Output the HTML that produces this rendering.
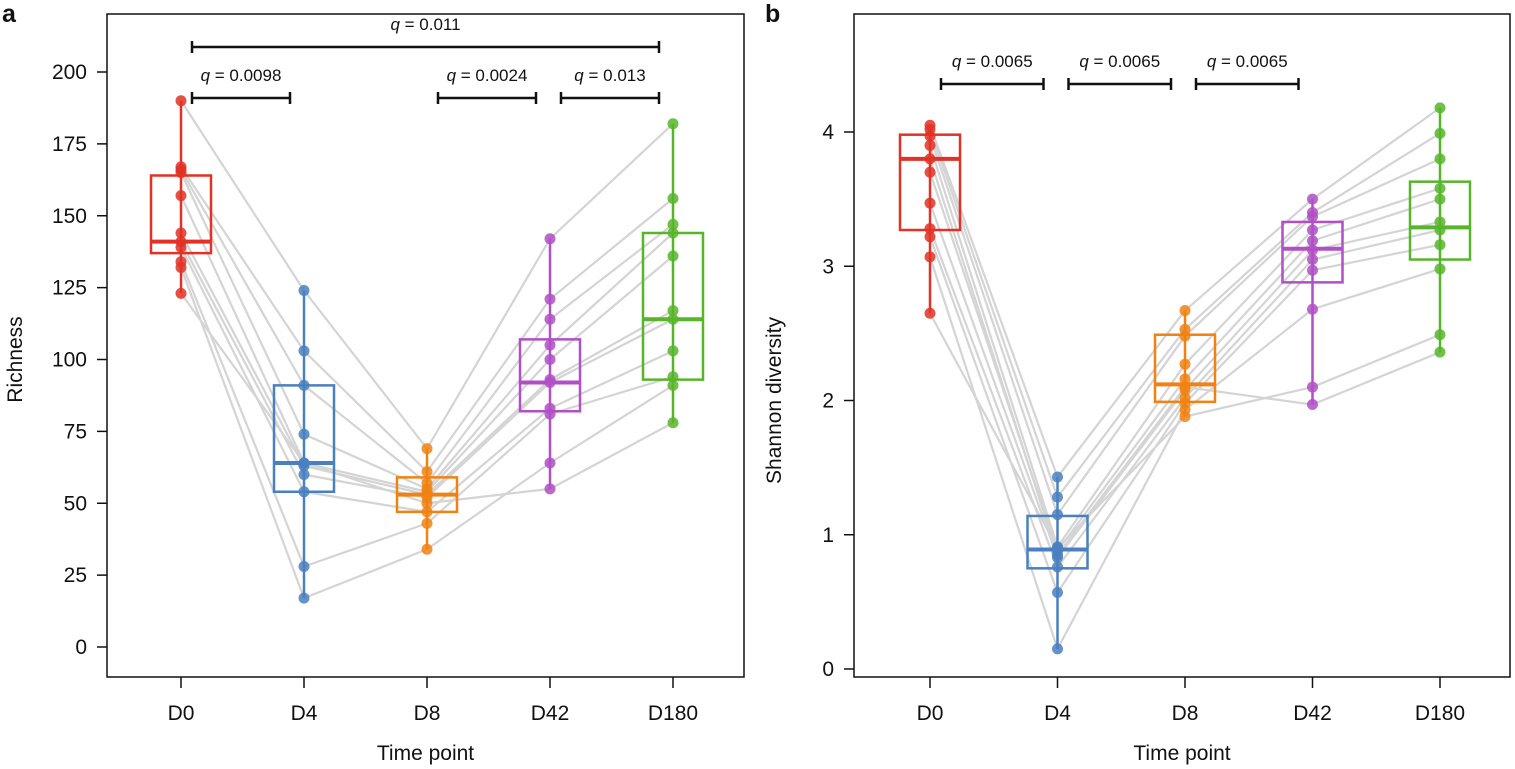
<!DOCTYPE html>
<html><head><meta charset="utf-8"><style>
body{margin:0;background:#fff;font-family:"Liberation Sans",Arial,sans-serif}
svg{display:block}
</style></head><body>
<svg id="c" width="1515" height="769" xmlns="http://www.w3.org/2000/svg"></svg>
<script>
const categories=["D0","D4","D8","D42","D180"];
const colors=["#e03226","#4a80bf","#f08214","#b04fc6","#57b52a"];
const richD0=[190,167,166,165,157,144,141,139,134,132,123];
const richD4=[124,103,91,74,64,63,60,54,28,17,64];
const richD8=[69,61,57,55,54,53,52,47,43,34,50];
const richD42=[142,121,114,105,100,93,92,83,81,64,55];
const richD180=[182,156,147,144,136,117,114,103,94,91,78];
const richBox=[[123,137,141,164,190],[17,54,64,91,124],[34,47,53,59,69],[55,82,92,107,142],[78,93,114,144,182]];
const shanD0=[4.05,4.02,3.97,3.90,3.70,3.47,3.28,3.22,3.07,2.65,3.80];
const shanD4=[1.43,1.28,1.15,0.91,0.88,0.83,0.76,0.57,0.15,0.90,0.85];
const shanD8=[2.67,2.53,2.48,2.27,2.16,2.08,2.02,1.98,1.93,1.88,2.10];
const shanD42=[3.50,3.40,3.37,3.27,3.19,3.12,3.05,2.97,2.68,2.10,1.97];
const shanD180=[4.18,3.99,3.80,3.58,3.50,3.33,3.27,3.16,2.98,2.49,2.36];
const shanBox=[[2.65,3.27,3.80,3.98,4.05],[0.15,0.75,0.89,1.14,1.43],[1.88,1.99,2.12,2.49,2.67],[1.97,2.88,3.13,3.33,3.50],[2.36,3.05,3.29,3.63,4.18]];
const richTicks=[0,25,50,75,100,125,150,175,200];
const shanTicks=[0,1,2,3,4];
const richQ=[[0,4,"0.011",1],[0,1,"0.0098",0],[2,3,"0.0024",0],[3,4,"0.013",0]];
const shanQ=[[0,1,"0.0065",0],[1,2,"0.0065",0],[2,3,"0.0065",0]];

const svg=document.getElementById('c');const NS="http://www.w3.org/2000/svg";
function el(t,a,p){const e=document.createElementNS(NS,t);for(const k in a)e.setAttribute(k,a[k]);(p||svg).appendChild(e);return e;}
function txt(x,y,s,a,p){const e=el('text',Object.assign({x:x,y:y,'font-size':21,fill:'#111','text-anchor':'middle'},a||{}),p);e.innerHTML=s;return e;}

function panel(o){
 const g=el('g',{});
 
 
 const y=v=>o.y0+(v-o.vmin)*(o.y1-o.y0)/(o.vmax-o.vmin);
 const x=i=>o.x0+i*o.dx;
 const fr=el('rect',{x:o.L,y:14,width:o.R-o.L,height:663,fill:'none',stroke:'#111','stroke-width':1.5},g);
 
 o.ticks.forEach(t=>{el('line',{x1:o.L-10,x2:o.L,y1:y(t),y2:y(t),stroke:'#111','stroke-width':1.5},g);
  const l=txt(o.L-20,y(t)+7,String(t),{'text-anchor':'end'},g);});
 categories.forEach((c,i)=>{el('line',{x1:x(i),x2:x(i),y1:677,y2:688,stroke:'#111','stroke-width':1.5},g);
  const l=txt(x(i),720,c,{},g);});
 const xt=txt((o.L+o.R)/2,760,'Time point',{},g);
 const yt=txt(0,0,o.ytitle,{transform:`translate(${o.L-o.yoff},${(o.y0+o.y1)/2}) rotate(-90)`},g);
 const pl=txt(o.lx,22,o.letter,{'font-weight':'bold','font-size':25,'text-anchor':'start'},g);
 const S=o.series;
 const n=S[0].length;
 for(let k=0;k<n;k++){for(let i=0;i<4;i++){const ln=el('line',{x1:x(i),y1:y(S[i][k]),x2:x(i+1),y2:y(S[i+1][k]),stroke:'#d4d4d4','stroke-width':2.2},g);
  }}
 o.box.forEach((b,i)=>{const c=colors[i],cx=x(i),w=30;
  el('line',{x1:cx,x2:cx,y1:y(b[0]),y2:y(b[4]),stroke:c,'stroke-width':2.5},g);
  const r=el('rect',{x:cx-w,y:y(b[3]),width:2*w,height:y(b[1])-y(b[3]),fill:'none',stroke:c,'stroke-width':2.5},g);
  
  el('line',{x1:cx-w,x2:cx+w,y1:y(b[2]),y2:y(b[2]),stroke:c,'stroke-width':4},g);
  S[i].forEach(v=>{const p=el('circle',{cx:cx,cy:y(v),r:5.5,fill:c,'fill-opacity':0.85},g);
   });
 });
 o.q.forEach(q=>{const yy=q[3]?o.qTop:o.qLow,x1=x(q[0])+11,x2=x(q[1])-14;
  const b=el('path',{d:`M${x1} ${yy-6}V${yy+6}M${x1} ${yy}H${x2}M${x2} ${yy-6}V${yy+6}`,stroke:'#111','stroke-width':2.5,fill:'none'},g);
  
  const t=txt((x1+x2)/2,yy-17,'<tspan font-style="italic">q</tspan> = '+q[2],{'font-size':17},g);});
}
panel({name:'panel-a-richness',letter:'a',lx:2,L:107,R:744,x0:181,dx:123,y0:647,y1:72,vmin:0,vmax:200,ticks:richTicks,ytitle:'Richness',yoff:85,
 series:[richD0,richD4,richD8,richD42,richD180],box:richBox,q:richQ,qTop:47,qLow:98});
panel({name:'panel-b-shannon',letter:'b',lx:765,L:854,R:1510,x0:930,dx:127.5,y0:669,y1:132,vmin:0,vmax:4,ticks:shanTicks,ytitle:'Shannon diversity',yoff:73,
 series:[shanD0,shanD4,shanD8,shanD42,shanD180],box:shanBox,q:shanQ,qTop:84,qLow:84});
</script>
</body></html>
